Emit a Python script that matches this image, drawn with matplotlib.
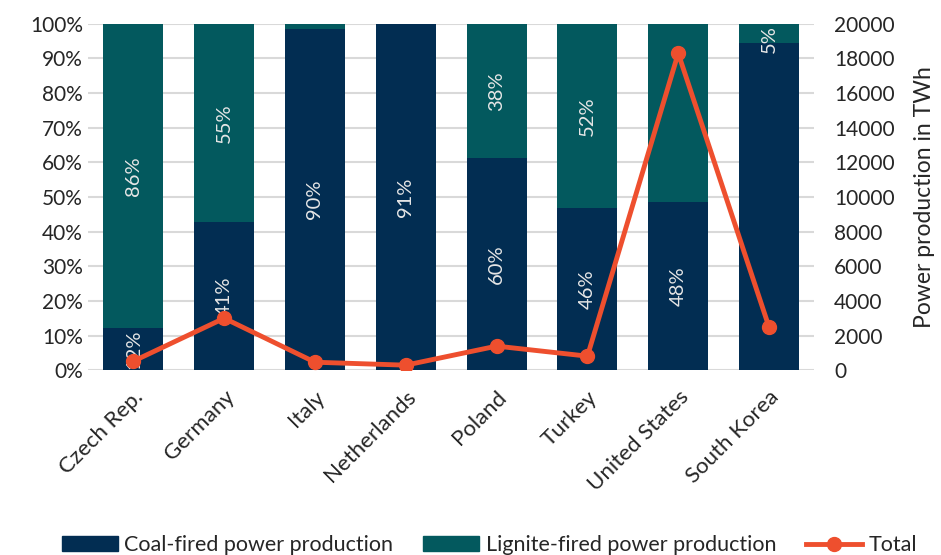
import numpy as np
import matplotlib.pyplot as plt
from matplotlib.lines import Line2D
from matplotlib.patches import Patch

plt.rcParams['font.family'] = ['Lato', 'DejaVu Sans']

countries = ["Czech Rep.", "Germany", "Italy", "Netherlands", "Poland",
             "Turkey", "United States", "South Korea"]
coal = [12, 41, 90, 91, 60, 46, 48, 86]
lignite = [86, 55, 1.4, 0, 38, 52, 51, 5]
total = [520, 3000, 460, 290, 1390, 810, 18300, 2490]
# which segment labels are shown
coal_lab = [True, True, True, True, True, True, True, False]
lig_lab = [True, True, False, False, True, True, False, True]

c_coal = "#022d52"
c_lig = "#03595e"
c_tot = "#ee4f2e"

coal = np.array(coal, float)
lignite = np.array(lignite, float)
s = coal + lignite
coal_n = coal / s * 100
lig_n = lignite / s * 100
x = np.arange(len(countries))

fig = plt.figure(figsize=(9.41, 5.55), dpi=100)
ax = fig.add_axes([0.0935, 0.333, 0.772, 0.624])
ax.set_axisbelow(True)
ax.yaxis.grid(True, color="#d9d9d9", lw=1.5)
b1 = ax.bar(x, coal_n, 0.66, color=c_coal)
b2 = ax.bar(x, lig_n, 0.66, bottom=coal_n, color=c_lig)

for i in range(len(x)):
    if coal_lab[i]:
        ax.text(x[i], coal_n[i] / 2, "%d%%" % coal[i], rotation=90, ha="center",
                va="center", color="#e6e6e6", fontsize=14.5)
    if lig_lab[i]:
        yy = coal_n[i] + lig_n[i] / 2
        if lig_n[i] < 10:
            yy = 100 - 0.5
            va = "top"
        else:
            va = "center"
        ax.text(x[i], yy, "%d%%" % lignite[i], rotation=90, ha="center",
                va=va, color="#e6e6e6", fontsize=14.5)

ax.set_xlim(-0.5, len(x) - 0.5)
ax.set_ylim(0, 100)
ax.set_yticks(np.arange(0, 101, 10))
ax.set_yticklabels(["%d%%" % v for v in range(0, 101, 10)])
ax.set_xticks(x)
ax.set_xticklabels(countries, rotation=45, ha="right", rotation_mode="anchor")
for sp in ax.spines.values():
    sp.set_visible(False)
ax.tick_params(length=0, labelsize=15, colors="#262626")
ax.tick_params(axis="x", pad=12, labelsize=16)

ax2 = ax.twinx()
ax2.plot(x, total, color=c_tot, lw=3.5, marker="o", ms=10, zorder=5)
ax2.set_ylim(0, 20000)
ax2.set_yticks(np.arange(0, 20001, 2000))
for sp in ax2.spines.values():
    sp.set_visible(False)
ax2.tick_params(length=0, labelsize=15, colors="#262626", pad=14)
ax2.set_ylabel("Power production in TWh", fontsize=16.5, color="#262626", labelpad=14)

handles = [Patch(color=c_coal), Patch(color=c_lig),
           Line2D([], [], color=c_tot, lw=3.5, marker="o", ms=10)]
fig.legend(handles, ["Coal-fired power production", "Lignite-fired power production", "Total"],
           loc="lower center", bbox_to_anchor=(0.52, -0.035), ncol=3, frameon=False,
           fontsize=15.5, handlelength=2.6, handletextpad=0.3, columnspacing=1.4,
           labelcolor="#262626")

fig.savefig("out.png", dpi=100)
